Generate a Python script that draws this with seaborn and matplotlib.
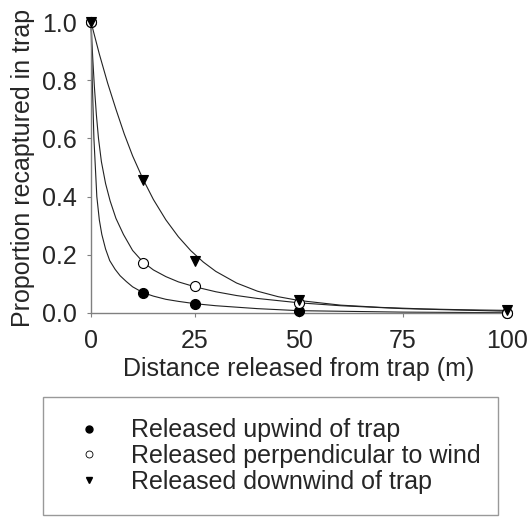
import pandas as pd
import matplotlib
matplotlib.use("Agg")
import matplotlib.pyplot as plt
from matplotlib.lines import Line2D
import seaborn as sns

# observed recapture proportions
distance = [0, 12.5, 25, 50, 100]
upwind = [1.0, 0.068, 0.031, 0.007, 0.0]
perpendicular = [1.0, 0.172, 0.093, 0.034, 0.0]
downwind = [1.0, 0.457, 0.18, 0.046, 0.012]

# fitted curves
up_fit_x = [0, 0.3, 0.7, 1.4, 2, 2.6, 3.5, 4.5, 5.8, 7, 8.5, 10, 12.5, 15, 18, 21, 25, 30, 40, 50, 75, 100]
up_fit_y = [1.0, 0.80, 0.60, 0.40, 0.32, 0.27, 0.22, 0.18, 0.15, 0.128, 0.108, 0.09, 0.07, 0.058,
            0.047, 0.04, 0.032, 0.025, 0.015, 0.008, 0.003, 0.001]
perp_fit_x = [0, 0.4, 0.8, 1.3, 1.8, 2.5, 3.5, 4.6, 6, 7.8, 10, 12.5, 15, 18, 21, 25, 30, 35, 40, 50,
              60, 75, 100]
perp_fit_y = [1.0, 0.88, 0.78, 0.68, 0.60, 0.52, 0.445, 0.385, 0.325, 0.27, 0.215, 0.175, 0.148, 0.125,
              0.107, 0.09, 0.073, 0.06, 0.05, 0.035, 0.025, 0.015, 0.006]
down_fit_x = [0, 2, 4, 6, 8, 10, 12.5, 15, 18, 21, 24, 27, 30, 35, 40, 45, 50, 60, 70, 80, 90, 100]
down_fit_y = [1.0, 0.89, 0.79, 0.70, 0.615, 0.54, 0.46, 0.39, 0.32, 0.262, 0.214, 0.175, 0.143, 0.103,
              0.075, 0.056, 0.043, 0.027, 0.019, 0.014, 0.011, 0.009]

labels = ["Released upwind of trap", "Released perpendicular to wind", "Released downwind of trap"]

sns.set_style("white")
plt.rcParams["font.family"] = ["Liberation Sans", "DejaVu Sans"]

fig = plt.figure(figsize=(5.27, 5.21), dpi=100)
ax = fig.add_axes([91 / 527, 208 / 521, 416 / 527, 291 / 521])

for fx, fy in [(up_fit_x, up_fit_y), (perp_fit_x, perp_fit_y), (down_fit_x, down_fit_y)]:
    sns.lineplot(x=fx, y=fy, ax=ax, color="#222222", linewidth=0.8, sort=False, clip_on=False)

styles = [
    (upwind, "o", "black"),
    (perpendicular, "o", "white"),
    (downwind, "v", "black"),
]
for vals, mk, fc in styles:
    ax.plot(distance, vals, linestyle="none", marker=mk, markersize=7.2, markerfacecolor=fc,
            markeredgecolor="black", markeredgewidth=0.8, clip_on=False, zorder=5)

ax.set_xlim(0, 100)
ax.set_ylim(0, 1.0)
ax.set_xticks([0, 25, 50, 75, 100])
ax.set_yticks([0.0, 0.2, 0.4, 0.6, 0.8, 1.0])
ax.set_yticklabels(["0.0", "0.2", "0.4", "0.6", "0.8", "1.0"])
ax.tick_params(axis="both", direction="out", length=3, width=0.8, color="#808080",
               labelsize=18, bottom=True, left=True)
ax.tick_params(axis="x", pad=8.5)
ax.tick_params(axis="y", pad=7.5)
for side in ["top", "right"]:
    ax.spines[side].set_visible(False)
for side in ["left", "bottom"]:
    ax.spines[side].set_color("#808080")
    ax.spines[side].set_linewidth(1)
ax.set_xlabel("Distance released from trap (m)", fontsize=18, labelpad=3)
ax.set_ylabel("Proportion recaptured in trap", fontsize=18, labelpad=5)

handles = [
    Line2D([], [], linestyle="none", marker="o", markersize=5, markerfacecolor="black", markeredgecolor="black"),
    Line2D([], [], linestyle="none", marker="o", markersize=5, markerfacecolor="white", markeredgecolor="black",
           markeredgewidth=0.6),
    Line2D([], [], linestyle="none", marker="v", markersize=5, markerfacecolor="black", markeredgecolor="black"),
]
leg = fig.legend(handles, labels, loc="upper left", bbox_to_anchor=(43 / 527, 5 / 521, 455 / 527, 119 / 521),
                 mode="expand", fontsize=18, frameon=True, fancybox=False, borderpad=0.85,
                 handlelength=1.96, handletextpad=0.7, labelspacing=0.07, borderaxespad=0)
leg.get_frame().set_edgecolor("#808080")
leg.get_frame().set_linewidth(1)

fig.savefig("out.png", dpi=100)
